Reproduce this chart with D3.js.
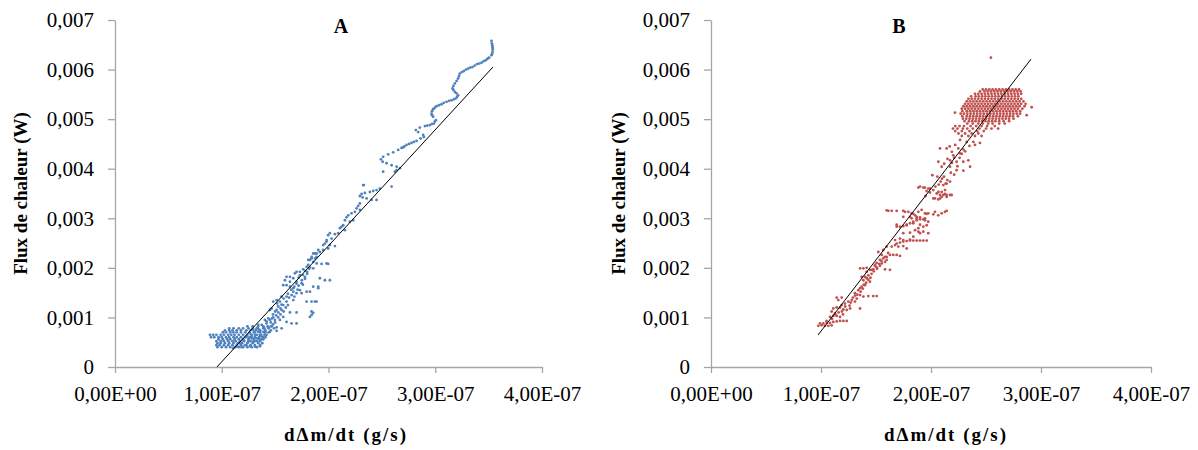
<!DOCTYPE html>
<meta charset="utf-8">
<script src="https://d3js.org/d3.v7.min.js"></script>
<style>
  body { margin: 0; background-color: white; }
  svg { display: block; }
  .tick text { font-family: "Liberation Serif", "Times New Roman", serif; font-size: 21px; fill: #000; }
  .tick line, .domain { stroke: #a6a6a6; stroke-width: 1.3; }
  .lab { font-family: "Liberation Serif", "Times New Roman", serif; font-weight: bold; font-size: 19px; fill: #000; }
</style>
<body></body>
<script>
// units: x in 1e-9 g/s, y in mW (converted to g/s and W for the scales)
const xTicks = [0, 1e-7, 2e-7, 3e-7, 4e-7];
const xTickLabels = ["0,00E+00", "1,00E-07", "2,00E-07", "3,00E-07", "4,00E-07"];
const yTicks = [0, 0.001, 0.002, 0.003, 0.004, 0.005, 0.006, 0.007];
const yTickLabels = ["0", "0,001", "0,002", "0,003", "0,004", "0,005", "0,006", "0,007"];

// panel A - scattered points
const pointsA = [
  [268.4,4.42],[271,4.45],[273.1,4.48],[275.5,4.50],[277.8,4.52],[280,4.54],[282.5,4.56],[286.2,4.61],[289.3,4.64],
  [288.7,4.68],[284.0,4.74],[281.8,4.78],[285.6,4.83],[290.3,4.86],[292.5,4.87],[294.9,4.88],[296.8,4.90],[298.7,4.91],
  [299.6,4.95],[300.6,4.98],[298.0,5.05],[297,5.08],[296.5,5.11],[297,5.16],[298.0,5.20],[299.5,5.23],[301.2,5.26],
  [303.5,5.28],[305.9,5.30],[308,5.33],[310.6,5.35],[313,5.37],[315.3,5.38],[317.5,5.40],[319.3,5.42],[320.5,5.45],
  [321.4,5.48],[320,5.52],[318.4,5.55],[317,5.59],[316.2,5.62],[317,5.67],[318.4,5.72],[320,5.77],[321.4,5.82],
  [322.3,5.87],[323.0,5.92],[325,5.95],[326.8,5.97],[328.8,6.00],[330.8,6.02],[332.9,6.04],[334.9,6.05],[337,6.08],
  [339.2,6.11],[341.3,6.12],[343.4,6.14],[345.4,6.17],[347.4,6.19],[349,6.22],[350.5,6.24],[352.7,6.29],[353.3,6.32],
  [353.7,6.36],[353.8,6.41],[353.7,6.45],[353.4,6.49],[353.0,6.53],[352.7,6.58],
  [269.9,4.43],[265.3,4.38],[260.6,4.33],[255.9,4.29],[251.2,4.24],[249.1,4.19],[250.7,4.14],[254.4,4.11],[259.1,4.07],
  [263.8,4.04],[266.9,4.01],[263.8,3.97],[262.2,3.94],[251.2,3.94],[232.5,3.67],[259.1,3.64],[233.1,3.67],
  [248.1,3.60],[245.0,3.57],[241.9,3.55],[238.8,3.53],[234.1,3.51],[231.0,3.49],[229.4,3.45],[231.9,3.42],[235.7,3.40],
  [240.3,3.37],[245.0,3.37],[229.4,3.30],[227.8,3.25],[226.3,3.20],[229.4,3.17],[224.7,3.13],[221.6,3.10],[218.5,3.06],
  [216.9,3.02],[215.4,2.96],[220.0,2.93],[223.1,2.96],[213.8,2.86],[212.3,2.83],[210.7,2.80],[215.4,2.76],[209.1,2.70],
  [206.0,2.68],[201.3,2.70],[199.7,2.66],[202.9,2.59],[198.2,2.56],[196.6,2.49],[201.3,2.46],[206.0,2.44],[199.7,2.39],
  [195.0,2.36],[191.9,2.32],[188.9,2.29],[185.7,2.29],[184.2,2.22],[187.3,2.19],[182.6,2.16],[185.7,2.12],[188.9,2.09],
  [193.5,2.08],[199.7,2.08],[181.0,2.06],[182.6,2.01],[185.7,1.99],
  [184.2,1.05],[185.7,1.09],[187.3,1.32],[179.5,1.32],[182.6,1.52],[190.4,1.59],[201.3,1.75],[196.6,1.75],[191.9,1.79],[198.2,2.09],
  [198.2,2.53],[195.0,2.46],[190.4,2.36],[187.3,2.29],[188.8,2.22],[184.1,2.19],[181.0,2.16],[179.5,2.02],[176.3,1.97],
  [173.2,1.92],[170.1,1.92],[168.5,1.89],[173.2,1.85],[177.9,1.82],[167.0,1.79],[163.9,1.82],[160.7,1.82],[159.2,1.75],
  [163.9,1.72],[170.1,1.72],[174.8,1.69],[160.7,1.65],[157.6,1.65],[163.9,1.62],[167.0,1.59],[173.2,1.55],[179.5,1.52],
  [185.7,1.62],[190.4,1.62],[174.8,1.49],[170.1,1.49],[165.4,1.45],[160.7,1.42],[156.1,1.42],[151.4,1.35],[148.2,1.32],
  [154.5,1.32],[160.7,1.32],[167.0,1.35],[184.1,1.32],[188.8,1.32],[157.6,1.25],[152.9,1.22],[146.7,1.18],[145.1,1.15],
  [151.4,1.15],[156.1,1.15],[163.9,1.10],[170.1,1.10],[184.1,1.12],[182.6,1.01],[157.6,1.01],[152.9,1.00],[148.2,1.00],
  [143.6,0.98],[140.4,0.95],[145.1,0.95],[149.8,0.95],[154.5,0.95],[160.7,0.91],[165.4,0.88],[170.1,0.88],[142.0,0.88],
  [137.4,0.85],[134.2,0.85],[138.9,0.81],[143.6,0.80],[151.4,0.80],[156.1,0.78],[132.7,0.78],[129.5,0.75],[134.2,0.71],
  [138.9,0.71],[145.1,0.71],[151.4,0.73],[126.4,0.68],[131.1,0.65],[135.8,0.65],[142.0,0.65],[123.3,0.61],[128.0,0.58],
  [132.7,0.58],[137.4,0.56],[120.1,0.54],[124.8,0.51],[129.5,0.51],[134.2,0.48],[117.0,0.48],[121.7,0.44],[126.4,0.42],
  [131.1,0.41],[135.8,0.42],[113.9,0.41],[118.6,0.40],[110.8,0.38],
  [142,0.92],[146,0.90],[150,0.90],[147,0.98],[151,1.04],[155,1.06],[148,1.06],[153,1.10],[158,1.12],[150,1.12],
  [155,1.18],[160,1.20],[152,1.28],[156,1.26],[162,1.25],[158,1.38],[163,1.40],[168,1.42],[162,1.48],[167,1.52],
  [171,1.56],[165,1.56],[168,1.62],[172,1.64],[176,1.66],[170,1.68],[175,1.75],[178,1.78],[172,1.80],[176,1.86],
  [180,1.88],[178,1.94],[182,1.98],[180,1.92],[125,0.55],[128,0.62],[130,0.70],[135,0.75],[140,0.78],[137,0.62],
  [140,0.70],[146,0.82],[148,0.86],[133,0.52],[139,0.60]
];
// panel A - dense cluster, one row per y value
const coreA = [
  [0.40, [96,100,104,108,112,116,120,124,128,133]],
  [0.44, [95,98,102,106,110,114,118,123,127,131,136]],
  [0.48, [96,99,103,107,111,115,119,124,129,138]],
  [0.52, [95,99,102,106,110,113,117,121,127,131,136]],
  [0.56, [97,101,105,108,112,116,120,125,130,135,139]],
  [0.60, [90,93,97,100,104,107,111,114,118,122,126,131,135,141]],
  [0.65, [89,92,95,99,102,106,109,112,116,120,124,128,133,137,140]],
  [0.70, [101,104,108,111,114,118,122,126,131,136,141,144]],
  [0.74, [103,107,110,114,118,123,127,132,136,141,146]],
  [0.78, [107,111,116,120,125,129,134,139,144,149]],
  [0.82, [124,129,134,139,143,147]]
];

// panel B - scattered points
const pointsB = [
  [97.6,0.83],[100.6,0.84],[103.6,0.83],[106.7,0.83],[109.7,0.84],[99.1,0.88],[102.1,0.88],[105.2,0.89],[108.2,0.89],
  [111.2,0.91],[114.3,0.92],[117.3,0.93],[120.3,0.93],[123.4,0.93],[108.2,1.01],[111.2,1.03],[114.3,1.03],[117.3,1.01],
  [112.7,1.08],[109.7,1.12],[111.2,1.18],[114.3,1.20],[117.3,1.20],[120.3,1.16],[123.4,1.15],[126.4,1.18],[118.8,1.25],
  [121.8,1.28],[124.8,1.32],[127.9,1.35],[115.7,1.35],[118.8,1.40],[114.3,1.40],[135.5,1.18],[130.9,1.32],[132.5,1.38],
  [135.5,1.45],[138.5,1.42],[143.0,1.43],[147.5,1.43],[150.6,1.43],[130.9,1.49],[133.9,1.55],[137.0,1.62],[140.0,1.65],
  [135.5,1.59],[138.5,1.75],[141.5,1.79],[143.0,1.85],[140.0,1.82],[144.5,1.72],[137.0,1.82],[141.5,1.92],[144.5,1.96],
  [147.5,1.97],[150.6,2.01],[153.6,2.04],[155.2,2.09],[158.2,2.12],[159.7,2.16],[156.6,2.19],[153.6,2.16],[150.6,2.10],
  [149.1,2.06],[155.2,2.26],[159.7,2.22],[162.7,2.26],[165.7,2.26],[168.8,2.26],[171.8,2.24],[135.5,1.99],[138.5,1.99],
  [141.5,2.00],[146.1,1.96],[158.2,1.97],[162.7,1.96],[152.1,2.32],[156.6,2.36],[164.3,2.43],[167.3,2.46],[168.8,2.49],
  [171.8,2.51],[174.8,2.53],[177.9,2.54],[180.9,2.55],[183.9,2.55],[187.0,2.55],[190.0,2.55],[193.0,2.55],[196.1,2.55],
  [170.3,2.43],[174.8,2.44],[177.9,2.39],[167.3,2.56],[171.8,2.59],[174.8,2.56],[180.9,2.57],[159.7,2.43],
  [168.8,2.83],[171.8,2.83],[174.8,2.84],[177.9,2.86],[180.9,2.90],[183.9,2.93],[187.0,2.96],[190.0,2.98],[194.5,2.96],
  [197.5,2.93],[196.1,2.86],[193.0,2.83],[188.5,2.80],[185.5,2.76],[188.5,2.73],[190.0,2.70],[193.0,2.73],[197.5,2.70],
  [174.8,2.70],[180.9,2.71],[183.9,2.63],[161.2,3.15],[164.3,3.15],[168.8,3.15],[174.8,3.15],[179.4,3.13],[182.4,3.10],
  [185.5,3.06],[188.5,3.13],[191.5,3.17],[194.5,3.10],[197.5,3.10],[203.6,3.13],[206.6,3.06],[209.7,3.10],[212.7,3.13],
  [214.3,3.15],[187.0,3.03],[190.0,3.02],[194.5,3.00],[182.4,3.00],[190.0,3.64],[194.5,3.62],[199.1,3.60],[202.1,3.57],
  [205.2,3.50],[208.2,3.47],[211.2,3.47],[214.3,3.47],[218.8,3.47],[203.6,3.40],[206.6,3.38],[209.7,3.43],[211.2,3.67],
  [214.3,3.70],[217.3,3.74],[212.7,3.57],[209.7,3.53],
  [113,1.06],[116,1.10],[119,1.12],[122,1.22],[127,1.30],[129,1.40],[131,1.44],[136,1.52],[138,1.58],[141,1.70],
  [143,1.76],[146,1.88],[148,1.93],[151,1.98],[153,2.08],[155,2.14],[158,2.22],[161,2.30],[149,2.04],[145,1.80],
  [139,1.66],[133,1.46],[126,1.24],[120,1.06],[110,0.97],[105,0.93],
  [226.4,4.58],[232.4,4.54],[238.5,4.54],[244.5,4.52],[208.2,4.41],[214.2,4.41],[224.8,4.41],[229.4,4.39],[226.4,4.31],
  [220.3,4.27],[217.3,4.17],[223.3,4.14],[229.4,4.14],[233.9,4.17],[206.7,4.14],[209.7,4.04],[217.3,4.04],[223.3,3.97],
  [229.4,3.96],[235.5,4.04],[201.2,3.87],[205.8,3.84],[211.8,3.84],[214.8,3.77],[208.8,3.74],[213.3,3.70],[188.5,3.62],
  [193.0,3.62],[197.6,3.60],[206.7,3.53],[212.7,3.49],[217.3,3.47],[202.1,3.40],[208.2,3.40],[214.2,3.43],[159.7,3.16],
  [176.4,3.13],[183.9,3.09],[196.1,3.09],[202.1,3.08],[174.8,3.03],[180.9,3.03],[186.9,3.00],[193.0,2.98],[168.8,2.87],
  [177.9,2.87],[183.9,2.90],[190.0,2.87],[254.5,6.24],[221.8,5.13],[291.5,5.24],[287.0,5.08],
  [212,4.10],[215,4.20],[219,4.12],[221,4.22],[218,3.92],[221,3.88],[224,4.05],[226,4.22],[228,4.30],[231,4.35],
  [219,4.34],[235,4.46],[240,4.48],[222,4.48],[217,4.45],[210,3.80],[207,3.68],[204,3.64],[199,3.52],[195,3.45],[196,3.55]
];
// panel B - dense cluster, one row per y value
const coreB = [
  [5.60, [247,250,253,256,259,262,265,268,271,274,277,280]],
  [5.56, [244.5,248.5,251.5,254.5,257.5,260.5,263.5,266.5,269.5,272.5,275.5,278.5,281.5]],
  [5.51, [240,243,246,249,252,255,258,261,264,267,270,273,276,279,282]],
  [5.46, [236.5,240.5,243.5,246.5,249.5,252.5,255.5,258.5,261.5,264.5,267.5,270.5,273.5,276.5,279.5]],
  [5.41, [234,237,240,243,246,249,252,255,258,261,264,267,270,273,276,279,282]],
  [5.36, [232.5,235.5,238.5,241.5,244.5,247.5,250.5,253.5,256.5,259.5,262.5,265.5,268.5,271.5,274.5,277.5,280.5,284]],
  [5.31, [231,234,237,240,243,246,249,252,255,258,261,264,267,270,273,276,279,282,286]],
  [5.26, [229.5,232.5,235.5,238.5,241.5,244.5,247.5,250.5,253.5,256.5,259.5,262.5,265.5,268.5,271.5,274.5,277.5,280.5,285]],
  [5.21, [228,231,234,237,240,243,246,249,252,255,258,261,264,267,270,273,276,279,283]],
  [5.16, [228.5,232.5,235.5,238.5,241.5,244.5,247.5,250.5,253.5,256.5,259.5,262.5,265.5,268.5,271.5,274.5,277.5,281]],
  [5.11, [227,230,233,236,239,242,245,248,251,254,257,260,263,266,269,272,275,278,281]],
  [5.06, [228.5,232.5,235.5,238.5,241.5,244.5,247.5,250.5,253.5,256.5,259.5,262.5,265.5,268.5,271.5,274.5,279]],
  [5.01, [229,232,235,238,241,244,247,250,253,256,259,262,265,268,271,275]],
  [4.96, [230.5,234.5,237.5,240.5,243.5,246.5,249.5,252.5,255.5,258.5,262,266,271]],
  [4.91, [233,238,243,247,252,256,262,267]],
  [4.86, [222,226,230,236,241,246,251,258]],
  [4.81, [220,224,229,233,238,244,250,255,261]],
  [4.76, [222,228,235,242,248]],
  [4.71, [225,231,237,243]],
  [4.66, [228,234,240,246]]
];

// trend lines (start, end)
const fitA = [[95.5, 0], [354, 6.05]];
const fitB = [[97.3, 0.645], [290.9, 6.21]];

function flatten(points, core) {
  let all = points.slice();
  core.forEach(function (row) {
    row[1].forEach(function (x) { all.push([x, row[0]]); });
  });
  return all;
}

var svg = d3.select("body").append("svg")
  .attr("width", 1198)
  .attr("height", 450);

var panels = [
  { name: "A", pts: flatten(pointsA, coreA), fit: fitA, color: "#4F81BD", x0: 115, x1: 542, titleX: 341, yLabX: 27, xLabX: 346 },
  { name: "B", pts: flatten(pointsB, coreB), fit: fitB, color: "#C0504D", x0: 711, x1: 1151, titleX: 899, yLabX: 625, xLabX: 946 }
];

var yTop = 20, yBottom = 367;

panels.forEach(function (p) {
  var x = d3.scaleLinear().domain([0, 4e-7]).range([p.x0, p.x1]);
  var y = d3.scaleLinear().domain([0, 0.007]).range([yBottom, yTop]);

  svg.append("g")
    .attr("transform", "translate(0," + yBottom + ")")
    .call(d3.axisBottom(x).tickValues(xTicks)
      .tickFormat(function (d, i) { return xTickLabels[i]; })
      .tickSizeInner(6).tickSizeOuter(0).tickPadding(13));

  svg.append("g")
    .attr("transform", "translate(" + p.x0 + ",0)")
    .call(d3.axisLeft(y).tickValues(yTicks)
      .tickFormat(function (d, i) { return yTickLabels[i]; })
      .tickSizeInner(7).tickSizeOuter(0).tickPadding(14));

  svg.append("g").selectAll("circle")
    .data(p.pts)
    .enter().append("circle")
    .attr("cx", function (d) { return x(d[0] * 1e-9); })
    .attr("cy", function (d) { return y(d[1] * 1e-3); })
    .attr("r", 1.4)
    .style("fill", p.color);

  svg.append("line")
    .attr("x1", x(p.fit[0][0] * 1e-9)).attr("y1", y(p.fit[0][1] * 1e-3))
    .attr("x2", x(p.fit[1][0] * 1e-9)).attr("y2", y(p.fit[1][1] * 1e-3))
    .style("stroke", "#000").style("stroke-width", 1);

  svg.append("text").attr("class", "lab")
    .attr("x", p.titleX).attr("y", 33)
    .attr("text-anchor", "middle")
    .style("font-size", "20px")
    .text(p.name);

  svg.append("text").attr("class", "lab")
    .attr("transform", "translate(" + p.yLabX + "," + ((yTop + yBottom) / 2) + ") rotate(-90)")
    .attr("text-anchor", "middle")
    .text("Flux de chaleur (W)");

  svg.append("text").attr("class", "lab")
    .attr("x", p.xLabX).attr("y", 441)
    .attr("text-anchor", "middle")
    .style("letter-spacing", "2px")
    .text("dΔm/dt (g/s)");
});
</script>
